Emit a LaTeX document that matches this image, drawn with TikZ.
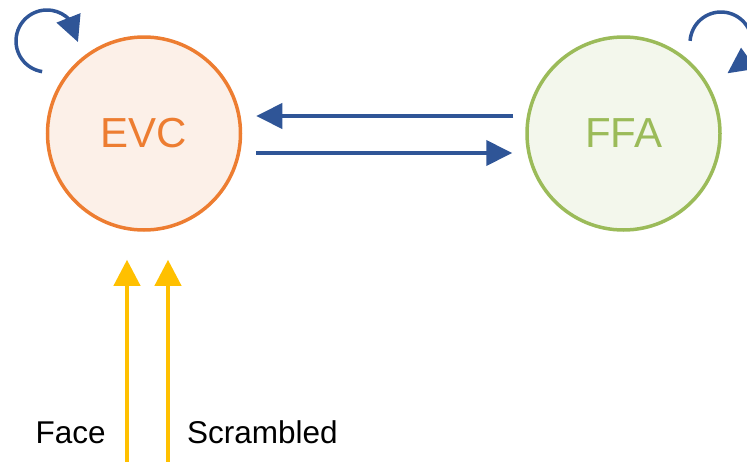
\documentclass[tikz,border=0pt]{standalone}
\usepackage{fontspec}
\setmainfont{Liberation Sans}
\usetikzlibrary{arrows.meta,bending,calc}
\definecolor{evcline}{HTML}{ED7D31}
\definecolor{evcfill}{HTML}{FCF0E8}
\definecolor{ffaline}{HTML}{9BBB59}
\definecolor{ffafill}{HTML}{F3F7EC}
\definecolor{linkblue}{HTML}{2F5597}
\definecolor{inputgold}{HTML}{FFC000}
\begin{document}
\begin{tikzpicture}[x=1pt,y=-1pt,
  area/.style={circle,minimum size=193pt,inner sep=0pt,line width=3.5pt,
    font=\fontsize{42}{50}\selectfont},
  flow/.style={draw=linkblue,line width=4pt,-{Triangle[length=26pt,width=25pt]}},
  selfloop/.style={draw=linkblue,line width=3.5pt,-{Triangle[length=26pt,width=25pt,flex]}},
  input/.style={draw=inputgold,line width=4pt,-{Triangle[length=26pt,width=26pt]}},
  label/.style={anchor=base west,inner sep=0pt,font=\fontsize{31.5}{38}\selectfont}]
\useasboundingbox (0,0) rectangle (747,461);
\clip (0,0) rectangle (747,461);

% the two areas
\node[area,draw=evcline,fill=evcfill,text=evcline] (evc) at (144,133.5) {EVC};
\node[area,draw=ffaline,fill=ffafill,text=ffaline] (ffa) at (623.5,133.5) {FFA};

% self connections
\draw[selfloop] ($(evc.center)+(-97,-92.5)+(99:31)$)
  arc[start angle=99,end angle=362,radius=31];
\draw[selfloop] ($(ffa.center)+(97.5,-90.5)+(184:31)$)
  arc[start angle=184,end angle=438,radius=31];

% feedback and feedforward
\draw[flow] ([xshift=-12pt,yshift=17.5pt]ffa.west) -- ([xshift=14pt,yshift=17.5pt]evc.east);
\draw[flow] ([xshift=14pt,yshift=-19.5pt]evc.east) -- ([xshift=-13pt,yshift=-19.5pt]ffa.west);

% stimulus inputs
\coordinate (evcfoot) at ([yshift=-28pt]evc.south);
\coordinate (facein) at (127,466);
\coordinate (scrin) at (168,466);
\draw[input] (facein) -- (facein |- evcfoot);
\draw[input] (scrin) -- (scrin |- evcfoot);

\node[label] (face) at (35.5,443) {Face};
\node[label] (scr) at (187,443) {Scrambled};
\end{tikzpicture}
\end{document}
